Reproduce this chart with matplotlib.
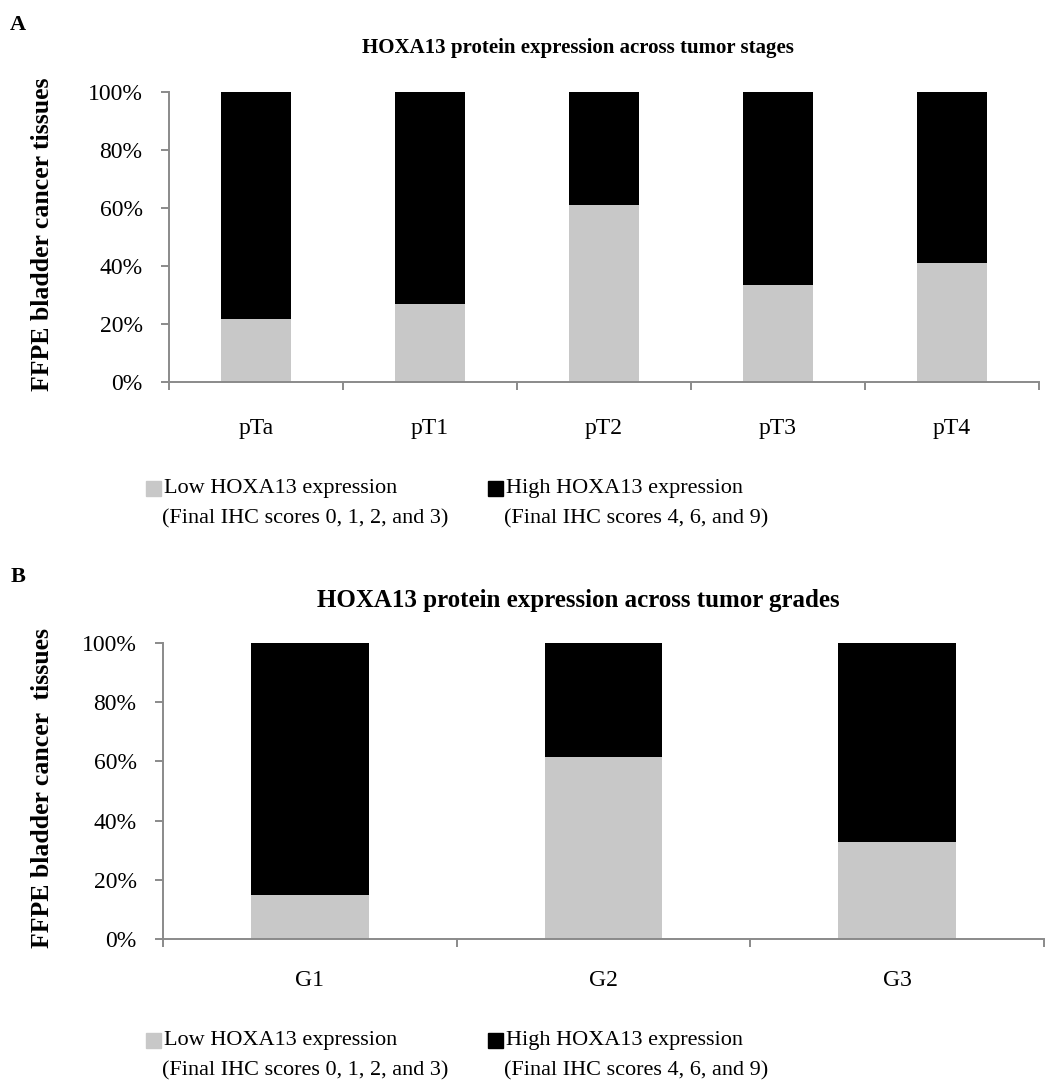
import matplotlib
matplotlib.use('Agg')
import matplotlib.pyplot as plt
import numpy as np
from matplotlib.patches import Rectangle
from matplotlib.ticker import FuncFormatter

plt.rcParams['font.family'] = ['Liberation Serif', 'DejaVu Serif']

W, H = 1054, 1081

# data (percent of tissues)
stages = ['pTa', 'pT1', 'pT2', 'pT3', 'pT4']
low_stage = [21.8, 27.0, 60.9, 33.3, 41.2]
high_stage = [100 - v for v in low_stage]

grades = ['G1', 'G2', 'G3']
low_grade = [15.0, 61.5, 32.7]
high_grade = [100 - v for v in low_grade]

yticks = [0, 20, 40, 60, 80, 100]
low_label = ['Low HOXA13 expression', '(Final IHC scores 0, 1, 2, and 3)']
high_label = ['High HOXA13 expression', '(Final IHC scores 4, 6, and 9)']

low_col = '#c8c8c8'
high_col = '#000000'
axis_col = '#8a8a8a'

fig = plt.figure(figsize=(W / 100, H / 100), dpi=100)


def px_axes(left, top, right, bottom):
    return fig.add_axes([left / W, 1 - bottom / H, (right - left) / W, (bottom - top) / H])


def panel(box, cats, low, high, title, title_size, letter, letter_y, title_y, leg_y, ylabel, xpad):
    ax = px_axes(*box)
    x = np.arange(len(cats))
    ax.bar(x, low, width=0.40, color=low_col, edgecolor='none')
    ax.bar(x, high, width=0.40, bottom=low, color=high_col, edgecolor='none')
    ax.set_xlim(-0.5, len(cats) - 0.5)
    ax.set_ylim(0, 100)
    for s in ['top', 'right']:
        ax.spines[s].set_visible(False)
    for s in ['left', 'bottom']:
        ax.spines[s].set_color(axis_col)
        ax.spines[s].set_linewidth(1.4)
    ax.set_yticks(yticks)
    ax.yaxis.set_major_formatter(FuncFormatter(lambda v, p: '%d%%' % v))
    ax.tick_params(axis='y', length=6, width=1.4, color=axis_col, labelsize=17, pad=13)
    ax.set_xticks(x)
    ax.set_xticklabels(cats)
    ax.tick_params(axis='x', which='major', length=0, labelsize=17, pad=xpad)
    ax.set_xticks(np.arange(len(cats) + 1) - 0.5, minor=True)
    ax.tick_params(axis='x', which='minor', length=6, width=1.4, color=axis_col)

    cy = (box[1] + box[3]) / 2
    fig.text(43 / W, 1 - (cy - 3) / H, ylabel, rotation=90, ha='center', va='center',
             fontsize=18.5, fontweight='bold')
    fig.text(18 / W, 1 - letter_y / H, letter, ha='center', va='center',
             fontsize=16, fontweight='bold')
    fig.text(578 / W, 1 - title_y / H, title, ha='center', va='center',
             fontsize=title_size, fontweight='bold')

    # legend drawn by hand, two lines per entry
    for sx, col, lines in [(146, low_col, low_label), (488, high_col, high_label)]:
        fig.patches.append(Rectangle((sx / W, 1 - (leg_y + 8) / H), 15 / W, 15 / H,
                                     transform=fig.transFigure, color=col))
        fig.text((sx + 18) / W, 1 - leg_y / H, lines[0], ha='left', va='center', fontsize=16)
        fig.text((sx + 16) / W, 1 - (leg_y + 31) / H, lines[1], ha='left', va='center', fontsize=16)
    return ax


panel((169, 92, 1039, 382), stages, low_stage, high_stage,
      'HOXA13 protein expression across tumor stages', 15, 'A', 25, 48, 488,
      'FFPE bladder cancer tissues', 26)
panel((163, 643, 1044, 939), grades, low_grade, high_grade,
      'HOXA13 protein expression across tumor grades', 18, 'B', 577, 600, 1040,
      'FFPE bladder cancer  tissues', 22)

fig.savefig('out.png', dpi=100)
